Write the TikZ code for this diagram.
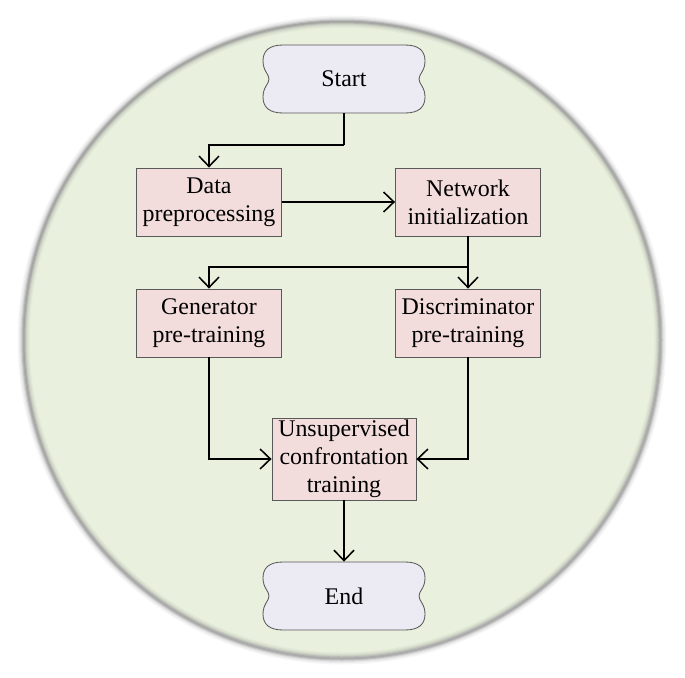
\documentclass[tikz,border=0pt]{standalone}
\usepackage{fontspec}
\setmainfont{Liberation Serif}
\usetikzlibrary{arrows.meta,calc}

\definecolor{bgGreen}{RGB}{233,240,221}
\definecolor{boxPink}{RGB}{242,221,220}
\definecolor{termLav}{RGB}{236,234,243}

% terminal shape (rounded, notched sides) behind the named node
\newcommand{\terminal}[3]{%
  \begin{scope}[shift={(#2)}]
    \filldraw[fill=termLav, draw=black!65, line width=0.6pt]
      (-61,-34) -- (61,-34)
      .. controls (75,-34) and (81,-28) .. (81,-18)
      .. controls (81,-8) and (75,-5) .. (75,0)
      .. controls (75,5) and (81,8) .. (81,18)
      .. controls (81,28) and (75,34) .. (61,34)
      -- (-61,34)
      .. controls (-75,34) and (-81,28) .. (-81,18)
      .. controls (-81,8) and (-75,5) .. (-75,0)
      .. controls (-75,-5) and (-81,-8) .. (-81,-18)
      .. controls (-81,-28) and (-75,-34) .. (-61,-34) -- cycle;
  \end{scope}
  \node[term] (#1) at (#2) {#3};}

\begin{document}
\begin{tikzpicture}[
    x=0.025cm, y=-0.025cm,
    every node/.style={font=\fontsize{17}{20}\selectfont, align=center},
    stepbox/.style={rectangle, draw=black!65, line width=0.6pt, fill=boxPink,
        minimum width=3.625cm, minimum height=1.7cm, inner sep=0pt},
    term/.style={rectangle, minimum width=4.05cm, minimum height=1.7cm, inner sep=0pt},
    flow/.style={line width=1.1pt, -{Straight Barb[length=0.26cm, width=0.5cm, line width=1.1pt]}},
    link/.style={line width=1.1pt}
]
    \useasboundingbox (0,0) rectangle (685,678);
    % background disc with soft grey rim
    \fill[bgGreen] (341.5,339) circle[radius=318];
    \foreach \w/\o in {12/0.08, 9/0.12, 6/0.2, 4/0.3, 2/0.4}
        \draw[black!45, line width=\w*0.025cm, opacity=\o] (342,340) circle[radius=318.5];

    \terminal{start}{344,79}{Start}
    \node[stepbox] (data) at (209,202) {Data\\preprocessing};
    \node[stepbox] (net) at (468,202) {Network\\initialization};
    \node[stepbox] (gen) at (209,323) {Generator\\pre-training};
    \node[stepbox] (disc) at (468,323) {Discriminator\\pre-training};
    \node[stepbox, minimum width=3.6cm, minimum height=2.05cm] (unsup) at (344,459)
        {Unsupervised\\confrontation\\training};
    \terminal{end}{344,596}{End}

    \coordinate (bend) at (344,145);
    \coordinate (split) at (468,267);
    \draw[link] (start.south) -- (bend);
    \draw[flow] (bend) -| (data.north);
    \draw[flow] (data.east) -- (net.west);
    \draw[flow] (net.south) -- (disc.north);
    \draw[flow] (split) -| (gen.north);
    \draw[flow] (gen.south) |- (unsup.west);
    \draw[flow] (disc.south) |- (unsup.east);
    \draw[flow] (unsup.south) -- (end.north);
\end{tikzpicture}
\end{document}
